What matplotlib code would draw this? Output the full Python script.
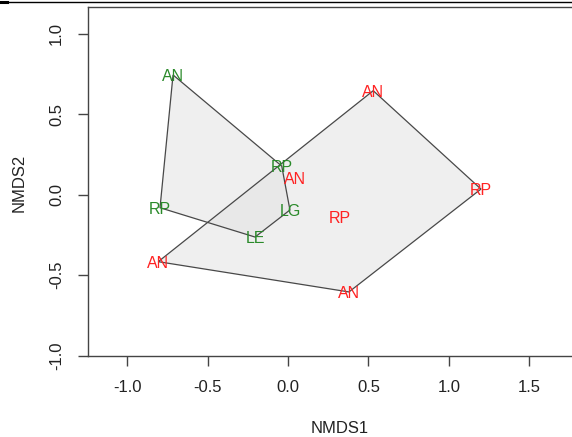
import matplotlib
matplotlib.use('Agg')
from matplotlib import pyplot as plt
from matplotlib.patches import Polygon
from matplotlib.lines import Line2D

plt.rcParams['font.family'] = ['Liberation Sans', 'DejaVu Sans']

# NMDS site scores, group 1 (green) and group 2 (red)
green_labels = ['AN', 'RP', 'RP', 'LE', 'LG']
green_x = [-0.715, -0.039, -0.796, -0.205, 0.012]
green_y = [0.744, 0.178, -0.081, -0.263, -0.095]

red_labels = ['AN', 'AN', 'RP', 'RP', 'AN', 'AN']
red_x = [0.530, 0.044, 1.200, 0.323, 0.379, -0.807]
red_y = [0.646, 0.104, 0.035, -0.139, -0.604, -0.416]

x_ticks = [-1.0, -0.5, 0.0, 0.5, 1.0, 1.5]
y_ticks = [-1.0, -0.5, 0.0, 0.5, 1.0]


def hull(xs, ys):
    # monotone chain convex hull
    pts = sorted(set(zip(xs, ys)))

    def cross(o, a, b):
        return (a[0] - o[0]) * (b[1] - o[1]) - (a[1] - o[1]) * (b[0] - o[0])

    lower, upper = [], []
    for p in pts:
        while len(lower) >= 2 and cross(lower[-2], lower[-1], p) <= 0:
            lower.pop()
        lower.append(p)
    for p in reversed(pts):
        while len(upper) >= 2 and cross(upper[-2], upper[-1], p) <= 0:
            upper.pop()
        upper.append(p)
    return lower[:-1] + upper[:-1]


fig = plt.figure(figsize=(5.72, 4.37), dpi=100)
ax = fig.add_axes([88.3 / 572, (437 - 355.7) / 437, (574 - 88.3) / 572, (355.7 - 7.3) / 437])

# hulls
for xs, ys in [(green_x, green_y), (red_x, red_y)]:
    poly = Polygon(hull(xs, ys), closed=True, facecolor='#e3e3e3', alpha=0.54,
                   edgecolor='none', zorder=1)
    ax.add_patch(poly)
    edge = Polygon(hull(xs, ys), closed=True, facecolor='none',
                   edgecolor='#484848', lw=0.9, zorder=2)
    ax.add_patch(edge)

# labels
for lab, x, y in zip(green_labels, green_x, green_y):
    ax.annotate(lab, (x, y), xytext=(0, -1), textcoords='offset points',
                ha='center', va='center', color='#2a8a2a', fontsize=11.5, zorder=3)
for lab, x, y in zip(red_labels, red_x, red_y):
    ax.annotate(lab, (x, y), xytext=(0, -1), textcoords='offset points',
                ha='center', va='center', color='#ff2222', fontsize=11.5, zorder=3)

ax.set_xlim(-1.242, (574 - 288) / 160.8)
ax.set_ylim(-1.0, 1.164)
ax.set_xticks(x_ticks)
ax.set_yticks(y_ticks)
ax.set_xticklabels(['%.1f' % t for t in x_ticks])
ax.set_yticklabels(['%.1f' % t for t in y_ticks], rotation=90, va='center')
ax.tick_params(axis='both', direction='out', length=7, width=1, color='#444444',
               labelsize=12, labelcolor='#222222', pad=10.5)
for s in ax.spines.values():
    s.set_color('#444444')
    s.set_linewidth(1)

ax.set_xlabel('NMDS1', fontsize=12, color='#222222')
ax.set_ylabel('NMDS2', fontsize=12, color='#222222')
ax.xaxis.set_label_coords((340 - 88.3) / (574 - 88.3), -(428.3 - 355.7) / 348.4)
ax.xaxis.label.set_va('center')
ax.yaxis.set_label_coords(-(88.3 - 19) / (574 - 88.3), (355.7 - 183) / 348.4)
ax.yaxis.label.set_va('center')

# thin border line at the very top of the screenshot
fig.add_artist(Line2D([0, 1], [1 - 1.5 / 437] * 2, color='black', lw=1.0))
fig.add_artist(Line2D([0, 7 / 572], [1 - 1.8 / 437] * 2, color='black', lw=2.2))

fig.savefig('out.png', dpi=100)
